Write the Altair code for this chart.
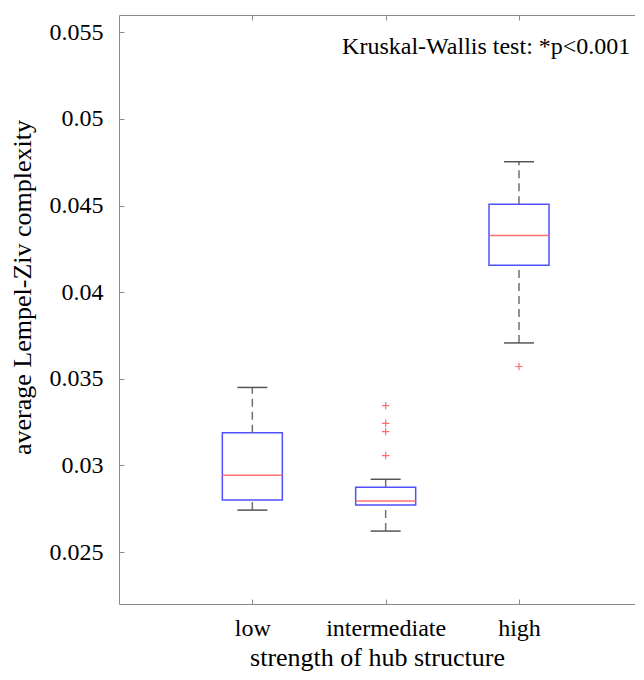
import altair as alt
import pandas as pd

categories = ["low", "intermediate", "high"]
whisker_low = [0.02742, 0.02621, 0.03707]
q1 = [0.02800, 0.02771, 0.04156]
median = [0.02943, 0.02794, 0.04327]
q3 = [0.03189, 0.02874, 0.04507]
whisker_high = [0.03450, 0.02920, 0.04753]
outlier_group = ["intermediate", "intermediate", "intermediate", "intermediate", "high"]
outlier_value = [0.03345, 0.03243, 0.03195, 0.03057, 0.03571]
annotation = "Kruskal-Wallis test: *p<0.001"

W, H = 516, 589
FONT = "Liberation Serif"
AX = "#8c8c8c"

box_df = pd.DataFrame({
    "group": categories,
    "pos": [i + 1 for i in range(len(categories))],
    "wlo": whisker_low, "q1": q1, "med": median, "q3": q3, "whi": whisker_high,
})
out_df = pd.DataFrame({
    "pos": [categories.index(g) + 1 for g in outlier_group],
    "value": outlier_value,
})
ann_df = pd.DataFrame({"x": [3.835], "y": [0.05413], "text": [annotation]})

xs = alt.Scale(domain=[0, 3.87], nice=False, zero=False)
ys = alt.Scale(domain=[0.022, 0.056], nice=False, zero=False)

label_expr = "[" + ",".join(f"'{c}'" for c in categories) + "][datum.value - 1]"

x_main = alt.Axis(values=[1, 2, 3], labelExpr=label_expr, title="strength of hub structure",
                  ticks=False, domainColor=AX, labelFont=FONT, labelFontSize=24, labelColor="black",
                  labelPadding=12, titleFont=FONT, titleFontSize=26, titleFontWeight="normal",
                  titleColor="black", titlePadding=4, grid=False)
y_main = alt.Axis(values=[0.025, 0.03, 0.035, 0.04, 0.045, 0.05, 0.055], format="~g",
                  title="average Lempel-Ziv complexity", ticks=False, domainColor=AX,
                  labelFont=FONT, labelFontSize=24, labelColor="black", labelPadding=16,
                  titleFont=FONT, titleFontSize=26, titleFontWeight="normal", titleColor="black",
                  titlePadding=14, titleY=272, grid=False)
x_in_bottom = alt.Axis(orient="top", offset=-H, values=[1, 2, 3], labels=False, domain=False,
                       ticks=True, tickSize=5, tickColor=AX, title=None, grid=False)
x_top = alt.Axis(orient="bottom", offset=-H, values=[1, 2, 3], labels=False, domain=True,
                 domainColor=AX, ticks=True, tickSize=5, tickColor=AX, title=None, grid=False)
y_in_left = alt.Axis(orient="right", offset=-W, values=[0.025, 0.03, 0.035, 0.04, 0.045, 0.05, 0.055],
                     labels=False, domain=False, ticks=True, tickSize=5, tickColor=AX,
                     title=None, grid=False)

base = alt.Chart(box_df).transform_calculate(
    bx0="datum.pos - 0.225", bx1="datum.pos + 0.225",
    cx0="datum.pos - 0.1125", cx1="datum.pos + 0.1125",
)

whisk_lo = base.mark_rule(color="#707070", strokeWidth=1.5, strokeDash=[8, 5]).encode(
    x=alt.X("pos:Q", scale=xs, axis=None),
    y=alt.Y("wlo:Q", scale=ys, axis=None), y2="q1:Q")
whisk_hi = base.mark_rule(color="#707070", strokeWidth=1.5, strokeDash=[8, 5]).encode(
    x=alt.X("pos:Q", scale=xs, axis=None),
    y=alt.Y("q3:Q", scale=ys, axis=None), y2="whi:Q")
cap_lo = base.mark_rule(color="#555555", strokeWidth=1.5).encode(
    x=alt.X("cx0:Q", scale=xs, axis=x_top), x2="cx1:Q",
    y=alt.Y("wlo:Q", scale=ys, axis=None))
cap_hi = base.mark_rule(color="#555555", strokeWidth=1.5).encode(
    x=alt.X("cx0:Q", scale=xs, axis=None), x2="cx1:Q",
    y=alt.Y("whi:Q", scale=ys, axis=None))
boxes = base.mark_rect(fill="white", stroke="#5050ff", strokeWidth=1.5).encode(
    x=alt.X("bx0:Q", scale=xs, axis=x_main), x2="bx1:Q",
    y=alt.Y("q1:Q", scale=ys, axis=y_main), y2="q3:Q")
meds = base.mark_rule(color="#ff7070", strokeWidth=1.5).encode(
    x=alt.X("bx0:Q", scale=xs, axis=x_in_bottom), x2="bx1:Q",
    y=alt.Y("med:Q", scale=ys, axis=y_in_left))
outs = alt.Chart(out_df).mark_point(shape="M-1,0L1,0M0,-1L0,1", filled=False, color="#ff3030",
                                    strokeWidth=1.2, size=55).encode(
    x=alt.X("pos:Q", scale=xs, axis=None),
    y=alt.Y("value:Q", scale=ys, axis=None))
ann = alt.Chart(ann_df).mark_text(font=FONT, fontSize=24, align="right", baseline="middle",
                                  color="black").encode(
    x=alt.X("x:Q", scale=xs, axis=None),
    y=alt.Y("y:Q", scale=ys, axis=None), text="text:N")

chart = alt.layer(
    boxes, whisk_lo, whisk_hi, cap_lo, cap_hi, meds, outs, ann
).resolve_axis(x="independent", y="independent").properties(
    width=W, height=H,
    padding={"left": 111, "top": 7, "right": 0, "bottom": 68},
    autosize=alt.AutoSizeParams(type="none"),
    background="white",
).configure_view(stroke=None).configure_axis(grid=False)

chart.save("out.html", embed_options={"renderer": "svg", "actions": False})
